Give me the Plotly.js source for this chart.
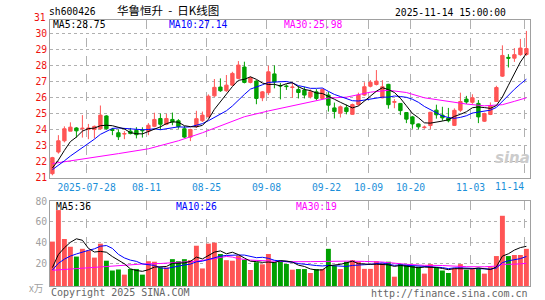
<!DOCTYPE html>
<html><head><meta charset="utf-8">
<script src="https://cdn.plot.ly/plotly-3.0.1.min.js"></script>
<style>html,body{margin:0;padding:0;background:#fff}#chart{width:545px;height:300px}</style>
</head><body><div id="chart"></div>
<script>
// ---- data ----
const dates = ['07-18','07-21','07-22','07-23','07-24','07-25','07-28','07-29','07-30','07-31',
'08-01','08-04','08-05','08-06','08-07','08-08','08-11','08-12','08-13','08-14',
'08-15','08-18','08-19','08-20','08-21','08-22','08-25','08-26','08-27','08-28',
'08-29','09-01','09-02','09-03','09-04','09-05','09-08','09-09','09-10','09-11',
'09-12','09-15','09-16','09-17','09-18','09-19','09-22','09-23','09-24','09-25',
'09-26','09-29','09-30','10-09','10-10','10-13','10-14','10-15','10-16','10-17',
'10-20','10-21','10-22','10-23','10-24','10-27','10-28','10-29','10-30','10-31',
'11-03','11-04','11-05','11-06','11-07','11-10','11-11','11-12','11-13','11-14'];

const open = [21.25,22.60,23.30,23.90,24.10,24.05,24.00,24.00,24.05,24.85,
24.00,23.80,23.72,23.90,23.95,23.96,23.90,24.20,24.69,24.33,
24.63,24.55,24.05,23.53,24.18,24.55,24.79,26.10,26.65,26.42,
26.77,27.19,27.90,26.94,27.02,25.98,26.30,27.47,26.75,26.72,
26.62,26.50,26.46,26.04,26.35,25.94,26.15,25.35,25.02,25.36,
24.95,25.56,26.15,26.70,26.81,25.98,26.82,25.70,25.63,25.06,
24.79,24.35,24.12,24.25,25.21,24.90,24.72,24.26,25.21,25.90,
25.70,25.63,24.52,24.94,25.75,27.33,28.50,28.45,28.67,28.68];
const high = [22.30,23.65,24.20,24.45,24.15,24.90,24.35,24.25,25.50,24.90,
24.10,24.00,23.90,24.10,24.15,24.14,24.40,25.05,25.00,24.98,
25.06,24.65,24.22,24.05,25.17,25.12,26.19,27.15,27.19,27.40,
27.60,28.27,28.23,27.30,27.08,26.40,27.98,28.00,26.90,26.82,
26.94,26.71,26.67,26.50,26.52,26.56,26.35,25.68,25.50,25.55,
25.62,26.30,26.95,27.08,27.71,27.08,26.85,25.90,25.65,25.08,
24.85,24.38,24.25,25.10,25.55,25.42,25.35,25.32,26.30,26.10,
26.20,25.84,25.05,25.69,26.73,29.25,28.70,29.08,29.65,30.15];
const low = [21.15,22.50,23.20,23.90,23.50,23.50,23.40,23.45,24.00,24.00,
23.65,23.35,23.40,23.70,23.45,23.50,23.65,24.15,23.98,24.27,
24.27,24.05,23.47,23.28,24.10,24.47,24.75,26.04,26.35,26.35,
26.73,27.15,26.88,26.88,25.58,25.77,26.15,26.57,25.88,26.47,
25.98,25.94,25.94,25.94,25.83,25.90,25.12,24.69,24.75,24.95,
24.92,25.48,26.10,26.63,26.75,25.95,25.30,25.33,24.90,24.40,
24.05,24.02,24.05,24.03,24.68,24.55,24.45,24.22,25.10,25.60,
25.60,24.40,24.47,24.90,25.72,27.28,27.87,28.22,28.60,28.60];
const close = [22.25,23.30,24.05,24.15,23.92,24.08,24.10,24.20,24.90,24.05,
23.95,23.55,23.75,23.75,23.68,23.93,24.27,24.63,24.33,24.69,
24.48,24.18,23.53,24.00,24.68,24.90,26.08,26.63,26.42,26.77,
27.50,28.02,26.94,27.23,25.94,26.35,27.60,26.97,26.72,26.68,
26.65,26.31,26.15,26.35,25.94,26.50,25.52,25.12,25.42,25.12,
25.56,26.15,26.67,26.95,27.02,26.67,25.55,25.74,25.18,24.65,
24.35,24.17,24.15,25.08,24.92,24.73,24.55,25.20,25.75,25.72,
25.98,24.79,25.00,25.50,26.62,28.62,28.45,28.67,29.08,29.05];

const ma5 = [21.60,22.10,22.70,23.25,23.53,23.90,24.06,24.09,24.24,24.27,
24.24,24.13,24.04,23.81,23.74,23.73,23.88,24.05,24.17,24.37,
24.48,24.46,24.24,24.18,24.17,24.26,24.64,25.26,25.74,26.16,
26.68,27.07,27.13,27.29,27.13,26.90,26.81,26.82,26.72,26.86,
26.92,26.67,26.50,26.43,26.28,26.25,26.09,25.89,25.70,25.54,
25.35,25.47,25.78,26.09,26.39,26.61,26.49,26.31,25.95,25.48,
25.01,24.74,24.42,24.40,24.45,24.53,24.61,24.82,24.95,25.11,
25.36,25.41,25.37,25.32,25.50,26.03,26.76,27.49,28.21,28.75];
const ma10 = [21.50,21.75,22.05,22.35,22.60,22.85,23.10,23.40,23.70,23.90,
24.07,24.10,24.07,24.03,24.00,23.99,24.00,24.05,23.99,24.05,
24.11,24.17,24.15,24.17,24.27,24.37,24.55,24.75,24.96,25.17,
25.47,25.85,26.19,26.52,26.64,26.79,26.94,26.97,27.00,27.00,
26.91,26.74,26.66,26.57,26.57,26.59,26.38,26.19,26.06,25.91,
25.80,25.78,25.84,25.90,26.00,26.02,26.02,26.09,26.06,26.01,
25.89,25.70,25.44,25.26,25.05,24.85,24.75,24.70,24.76,24.86,
25.03,25.09,25.17,25.21,25.38,25.77,26.16,26.51,26.84,27.14];
const ma30Dates = ['07-18','07-28','08-04','08-11','08-18','08-22','08-28','09-02','09-08','09-11',
'09-17','09-22','09-25','10-09','10-14','10-17','10-22','10-27','10-31','11-05','11-10','11-12','11-14'];
const ma30 = [21.88,22.20,22.50,22.80,23.30,23.80,24.35,24.80,25.16,25.41,
25.75,25.96,26.02,26.33,26.45,26.31,25.98,25.82,25.59,25.48,25.55,25.76,25.98];

const volume = [41,71.5,43.5,36,26.5,34,32.5,25.5,39,22.5,
13,14,9,14.5,14.5,9,22,21.5,16,16,
24,22,24,23,37,15,39,40,29,23,
22.5,27.5,23.5,13.5,21,19,29,21,22.5,19.3,
13.8,14.4,14.4,10.6,14.4,14.4,34,17.6,14.4,21.5,
23,21.5,14.6,14.6,22,20,21.5,7,19.2,18.3,
17.4,16.7,10,19.2,16.2,13,10.6,15.2,19.2,13.7,
14.3,15.2,10,16.2,27,66,27,28,28,34];
const vma5 = [15.8,28.5,35,40.3,43.7,42.3,34.5,30.9,31.5,30.7,
26.5,22.8,19.5,14.6,13,12.2,13.8,16.3,16.6,16.9,
19.9,19.9,20.4,21.8,26,24.2,27.6,30.8,32,29.2,
30.7,28.4,25.1,22,21.6,20.9,21.2,20.7,22.5,22.2,
21.1,18.2,16.9,14.5,13.5,13.6,17.6,18.2,19,20.4,
22.1,19.6,19,19,19.1,18.5,18.5,17,17.9,17.2,
16.7,15.7,16.3,16.3,15.9,15,13.8,14.8,14.8,14.3,
14.6,15.5,14.5,13.9,16.5,26.9,29.2,32.8,35.2,36.4];
const vma10 = [13.5,20,24,27,29,31,32.5,34,36.5,37.2,
34.4,28.65,25.2,23.05,21.85,19.35,18.3,17.9,15.6,14.95,
16.05,16.85,18.35,19.2,21.45,22.05,23.75,25.6,26.9,27.6,
27.45,28,27.95,27,25.4,25.8,24.8,22.9,22.25,21.9,
21,19.7,18.8,18.5,17.8,17.4,17.9,17.5,16.7,16.95,
17.9,18.6,18.6,19,19.8,20.3,19.1,18,18.5,18.2,
17.6,17.1,16.7,17.1,16.6,15.85,14.8,15.6,15.6,15.1,
14.8,14.7,14.7,14.4,15.4,20.7,22.4,23.7,24.5,26.6];
const vma30Dates = ['07-18','07-23','07-28','07-31','08-05','08-08','08-13','08-18','08-21','08-26',
'08-28','08-29','09-01','09-03','09-08','09-11','09-17','09-22','09-25','09-30',
'10-13','10-17','10-22','10-27','10-31','11-05','11-07','11-10','11-11','11-12','11-13','11-14'];
const vma30 = [13.2,14.5,15.5,16.5,17.8,19.3,19.8,20.6,22,24.5,
26.6,26,24.5,23.1,22.3,21.5,21.6,22.1,22.1,21.8,
21.2,19,18,17.85,16.7,16.6,17.25,19,18.7,19.1,19.5,19.95];

const tickDates = ['07-28','08-11','08-25','09-08','09-22','10-09','10-20','11-03','11-14'];
const tickLabels = ['2025-07-28','08-11','08-25','09-08','09-22','10-09','10-20','11-03',''];
const priceTicks = [21,22,23,24,25,26,27,28,29,30];
const volTicks = [20,40,60,80];

// ---- drawing ----
const X = dates.map((d,i)=>i);
const ix = d => dates.indexOf(d);
const RED='#ff5555', GREEN='#00a000';
const up = close.map((c,i)=>c>=open[i]);
const mono = 'DejaVu Sans Mono, monospace';
const px = x => (x-50)/480, py = y => (286-y)/266;
const gridX = tickDates.map(d=>ix(d)-0.3);

const line = (x,y,color,xa,ya)=>({type:'scatter',mode:'lines',x:x,y:y,xaxis:xa,yaxis:ya,
  line:{color:color,width:1},hoverinfo:'skip'});

const traces = [
 {type:'candlestick',x:X,open:open,high:high,low:low,close:close,xaxis:'x',yaxis:'y',
  increasing:{line:{color:RED,width:1},fillcolor:RED},
  decreasing:{line:{color:GREEN,width:1},fillcolor:GREEN},
  whiskerwidth:0,hoverinfo:'skip'},
 line(ma30Dates.map(ix),ma30,'#ff00ff','x','y'),
 line(X,ma10,'#0000ff','x','y'),
 line(X,ma5,'#000000','x','y'),
 {type:'bar',x:X,y:volume.map(v=>v+2),base:-2,width:0.82,xaxis:'x2',yaxis:'y2',
  marker:{color:up.map(u=>u?RED:GREEN),line:{width:0}},hoverinfo:'skip'},
 line(vma30Dates.map(ix),vma30,'#ff00ff','x2','y2'),
 line(X,vma10,'#0000ff','x2','y2'),
 line(X,vma5,'#000000','x2','y2')
];

const ann = (text,x,y,xanchor,color,size,family)=>({text:text,xref:'paper',yref:'paper',
  x:px(x),y:py(y),xanchor:xanchor,yanchor:'middle',showarrow:false,borderpad:0,
  font:{family:family||mono,size:size||9.7,color:color}});

const axX = {range:[-0.4,79.6],tickvals:gridX,showgrid:true,gridcolor:'#b0b0b0',griddash:'dash',
  gridwidth:1,ticks:'',zeroline:false,showline:true,linecolor:'#a0a0a0',mirror:true,fixedrange:true};

const NB = '\u00a0';
const layout = {
 width:545,height:300,margin:{l:50,r:15,t:20,b:14},paper_bgcolor:'#fff',plot_bgcolor:'#fff',
 showlegend:false,hovermode:false,boxgap:0.2,bargap:0.1,
 xaxis:Object.assign({},axX,{anchor:'y',ticktext:tickLabels,
   tickfont:{family:mono,size:9.7,color:'#1a8fd9'},rangeslider:{visible:false}}),
 xaxis2:Object.assign({},axX,{anchor:'y2',matches:'x',showticklabels:false,rangeslider:{visible:false}}),
 yaxis:{domain:[0.406,1],range:[20.98,30.83],tickvals:priceTicks,ticks:'',showgrid:true,
   gridcolor:'#b0b0b0',griddash:'dot',zeroline:false,showline:true,linecolor:'#a0a0a0',mirror:true,
   tickfont:{family:mono,size:9.7,color:'#ee1111'},fixedrange:true},
 yaxis2:{domain:[0,0.3195],range:[-2,80.3],tickvals:volTicks,ticks:'',showgrid:true,
   gridcolor:'#b0b0b0',griddash:'dot',zeroline:false,showline:true,linecolor:'#a0a0a0',mirror:true,
   tickfont:{family:mono,size:9.7,color:'#a0a0a0'},fixedrange:true},
 annotations:[
  ann('31',47,17.3,'right','#ee1111'),
  ann('sh600426',48,11.5,'left','#000'),
  ann('华鲁恒升'+NB+NB+'-'+NB+NB+'日K线图',116,10.5,'left','#000',11.5,'Noto Sans CJK SC'),
  ann('2025-11-14 15:00:00',507,12,'right','#000'),
  ann('MA5:28.75',52,24.5,'left','#000'),
  ann('MA10:27.14',168,24.5,'left','#0000ff'),
  ann('MA30:25.98',283,24.5,'left','#ff00ff'),
  ann('MA5:36',55,206,'left','#000'),
  ann('MA10:26',175,206,'left','#0000ff'),
  ann('MA30:19',295,206,'left','#ff00ff'),
  ann('11-14',509,186.5,'center','#1a8fd9'),
  ann('x万',28,287.5,'left','#a0a0a0',9.7,'Noto Sans CJK SC, '+mono),
  ann('Copyright 2025 SINA.COM',50,292.5,'left','#666',10),
  ann('http://finance.sina.com.cn',529,293,'right','#666',10),
  ann('<b><i>sina</i></b>',512,158,'center','#cccccc',15,'DejaVu Sans')
 ]
};
Plotly.newPlot('chart',traces,layout,{staticPlot:true,displayModeBar:false});
</script></body></html>
